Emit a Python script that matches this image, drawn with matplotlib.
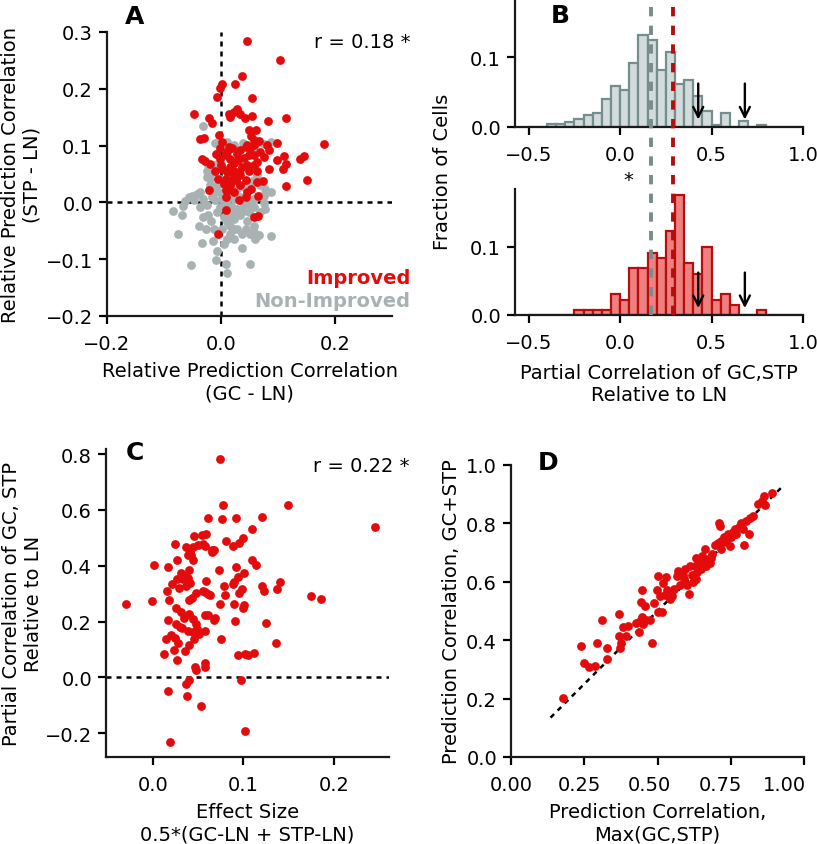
import matplotlib
matplotlib.use("Agg")
import matplotlib.pyplot as plt
from matplotlib.lines import Line2D
from matplotlib.transforms import blended_transform_factory, ScaledTranslation
import numpy as np

# ---------------- DATA ----------------
# Panel A: relative prediction correlation (GC-LN, STP-LN)
improved_x = [0.046, 0.104, 0.036, 0.002, 0.024, -0.001, -0.007, 0.055, -0.047, 0.014,
              0.028, 0.033, 0.042, 0.055, -0.021, -0.015, 0.016, 0.022, 0.082, 0.114,
              0.061, 0.049, -0.003, -0.036, -0.030, 0.052, 0.058, 0.066, 0.099, 0.180,
              0.001, 0.014, 0.043, 0.051, 0.019, 0.034, 0.085, 0.068, 0.111, 0.146,
              0.139, 0.099, 0.114, -0.034, -0.028, -0.019, -0.009, -0.001, 0.008, 0.016,
              0.022, 0.029, 0.040, 0.049, 0.058, 0.064, 0.046, 0.084, 0.108, -0.010,
              0.002, 0.011, 0.022, 0.031, 0.049, 0.064, -0.006, 0.008, 0.019, 0.027,
              0.043, 0.074, 0.151, 0.114, 0.005, 0.016, 0.034, 0.052, -0.021, 0.009,
              0.022, 0.043, 0.009, 0.031, 0.065, 0.008, 0.058, 0.065, -0.006, 0.000,
              0.016, 0.037, 0.022, 0.034, 0.011, 0.028, 0.058, 0.076, 0.046, 0.013,
              0.046, 0.058, 0.080, -0.001, 0.064]
improved_y = [0.285, 0.251, 0.222, 0.208, 0.208, 0.201, 0.186, 0.184, 0.155, 0.155,
              0.165, 0.155, 0.149, 0.152, 0.149, 0.139, 0.151, 0.159, 0.143, 0.148,
              0.128, 0.128, 0.118, 0.112, 0.114, 0.117, 0.109, 0.108, 0.105, 0.102,
              0.106, 0.098, 0.098, 0.095, 0.095, 0.092, 0.092, 0.088, 0.082, 0.082,
              0.076, 0.074, 0.067, 0.077, 0.073, 0.068, 0.086, 0.077, 0.083, 0.077,
              0.070, 0.074, 0.078, 0.083, 0.083, 0.071, 0.065, 0.059, 0.059, 0.056,
              0.059, 0.054, 0.056, 0.054, 0.056, 0.056, 0.042, 0.042, 0.039, 0.039,
              0.039, 0.037, 0.039, 0.028, 0.033, 0.030, 0.030, 0.024, 0.021, 0.021,
              0.018, 0.009, 0.009, 0.004, 0.012, -0.014, -0.026, -0.024, -0.056, 0.065,
              0.062, 0.062, 0.048, 0.048, 0.089, 0.086, 0.101, 0.080, 0.101, 0.021,
              0.018, 0.065, 0.101, 0.095, 0.036]

nonimproved_x = [-0.032, -0.011, 0.038, 0.075, 0.087, 0.064, -0.024, -0.013, -0.025, -0.036,
                 -0.042, -0.051, -0.063, -0.067, -0.085, -0.069, -0.048, -0.031, -0.016, -0.036,
                 -0.025, -0.022, -0.039, -0.075, -0.034, -0.014, -0.027, -0.018, -0.007, -0.008,
                 -0.053, 0.009, 0.011, 0.036, 0.051, 0.036, 0.051, 0.066, 0.087, 0.060,
                 0.016, 0.022, 0.002, 0.011, 0.022, 0.034, 0.046, 0.058, 0.069, 0.078,
                 0.075, 0.087, 0.078, 0.069, 0.058, 0.064, -0.007, -0.004, 0.002, 0.011,
                 0.019, 0.028, 0.040, 0.049, 0.058, 0.037, 0.049, 0.022, 0.014, 0.005,
                 -0.001, -0.010, -0.013, -0.019, 0.014, 0.022, 0.034, 0.028, 0.040, 0.049,
                 0.016, 0.034, 0.058, 0.016, 0.028, 0.043, -0.007, -0.031, -0.013, 0.058,
                 0.022, 0.011, 0.005, -0.056, -0.013, -0.019, 0.069, 0.075, 0.058, 0.022,
                 0.011, -0.022, -0.001, 0.022]
nonimproved_y = [0.135, 0.105, 0.105, 0.102, 0.106, 0.104, 0.056, 0.054, 0.045, 0.019,
                 0.015, 0.011, 0.002, -0.006, -0.015, -0.023, 0.004, 0.006, 0.009, -0.008,
                 -0.005, -0.023, -0.042, -0.056, -0.071, -0.068, -0.046, -0.032, -0.086, -0.102,
                 -0.111, -0.109, -0.124, -0.081, -0.109, -0.056, -0.056, -0.057, -0.059, -0.065,
                 -0.055, -0.046, -0.046, -0.035, -0.029, -0.023, -0.032, -0.041, -0.017, -0.012,
                 -0.001, 0.019, 0.024, 0.030, 0.039, 0.048, 0.030, 0.018, 0.006, -0.002,
                 -0.008, -0.011, -0.005, -0.002, -0.008, -0.017, -0.017, -0.020, -0.023, -0.026,
                 -0.008, 0.004, 0.018, 0.030, 0.009, 0.006, 0.009, 0.024, 0.027, 0.033,
                 0.042, 0.054, 0.006, -0.041, -0.046, -0.046, -0.017, -0.026, -0.046, -0.052,
                 -0.064, -0.064, -0.073, 0.009, 0.065, 0.042, 0.012, 0.012, 0.092, 0.101,
                 0.106, 0.065, 0.042, 0.030]

r_text_A = "r = 0.18 *"

# Panel B: histograms of partial correlation (fraction of cells)
bin_left = [-0.50, -0.45, -0.40, -0.35, -0.30, -0.25, -0.20, -0.15, -0.10, -0.05,
            0.00, 0.05, 0.10, 0.15, 0.20, 0.25, 0.30, 0.35, 0.40, 0.45,
            0.50, 0.55, 0.60, 0.65, 0.70, 0.75, 0.80, 0.85, 0.90, 0.95]
bin_width = 0.05
frac_nonimproved = [0.0, 0.0, 0.003, 0.003, 0.006, 0.0115, 0.017, 0.020, 0.040, 0.058,
                    0.052, 0.091, 0.132, 0.125, 0.082, 0.108, 0.061, 0.067, 0.044, 0.023,
                    0.002, 0.019, 0.0, 0.008, 0.0, 0.002, 0.0, 0.0, 0.0, 0.0]
frac_improved = [0.0, 0.0, 0.0, 0.0, 0.0, 0.0075, 0.0075, 0.0075, 0.0075, 0.030,
                 0.022, 0.068, 0.068, 0.091, 0.083, 0.122, 0.175, 0.076, 0.060, 0.099,
                 0.022, 0.030, 0.015, 0.0, 0.0, 0.0075, 0.0, 0.0, 0.0, 0.0]
median_nonimproved = 0.171
median_improved = 0.291
arrow_x = [0.427, 0.682]
star_x = 0.045

# Panel C: effect size vs partial correlation
effect_size = [0.0745, 0.0775, 0.149, 0.246, 0.0605, 0.076, 0.092, 0.120, 0.109, 0.045,
               0.054, 0.059, 0.100, 0.095, 0.081, 0.089, 0.024, 0.036, 0.044, 0.050,
               0.055, 0.057, 0.065, 0.068, 0.065, 0.041, 0.042, 0.039, 0.044, 0.027,
               0.109, 0.114, 0.001, 0.017, 0.092, 0.073, 0.040, 0.101, 0.031, 0.035,
               0.039, 0.059, 0.033, 0.026, 0.041, 0.094, 0.090, 0.140, 0.078, 0.021,
               0.029, 0.037, 0.016, 0.089, 0.121, 0.098, 0.137, 0.123, 0.055, 0.057,
               0.080, 0.061, 0.048, 0.063, 0.095, 0.175, 0.186, -0.030, -0.001, 0.018,
               0.040, 0.043, 0.074, 0.090, 0.101, 0.100, 0.025, 0.031, 0.040, 0.057,
               0.061, 0.034, 0.044, 0.067, 0.069, 0.017, 0.091, 0.125, 0.047, 0.025,
               0.030, 0.032, 0.039, 0.044, 0.049, 0.058, 0.051, 0.020, 0.014, 0.024,
               0.045, 0.075, 0.136, 0.028, 0.040, 0.023, 0.035, 0.012, 0.094, 0.102,
               0.105, 0.112, 0.027, 0.046, 0.058, 0.047, 0.058, 0.040, 0.097, 0.036,
               0.017, 0.038, 0.053, 0.102, 0.019]
partial_corr = [0.782, 0.619, 0.618, 0.537, 0.570, 0.568, 0.570, 0.574, 0.532, 0.508,
                0.511, 0.514, 0.499, 0.480, 0.487, 0.470, 0.476, 0.467, 0.467, 0.475,
                0.479, 0.470, 0.458, 0.455, 0.449, 0.449, 0.437, 0.437, 0.419, 0.422,
                0.419, 0.401, 0.401, 0.395, 0.397, 0.385, 0.383, 0.375, 0.375, 0.363,
                0.356, 0.347, 0.352, 0.353, 0.339, 0.359, 0.341, 0.341, 0.329, 0.333,
                0.320, 0.329, 0.311, 0.333, 0.326, 0.317, 0.316, 0.309, 0.308, 0.305,
                0.294, 0.300, 0.303, 0.294, 0.303, 0.291, 0.280, 0.263, 0.272, 0.276,
                0.276, 0.284, 0.263, 0.263, 0.261, 0.248, 0.248, 0.236, 0.228, 0.222,
                0.222, 0.212, 0.210, 0.205, 0.212, 0.204, 0.203, 0.196, 0.193, 0.190,
                0.180, 0.177, 0.166, 0.162, 0.174, 0.167, 0.156, 0.153, 0.138, 0.142,
                0.138, 0.136, 0.124, 0.123, 0.117, 0.097, 0.093, 0.085, 0.081, 0.085,
                0.079, 0.088, 0.064, 0.037, 0.036, 0.025, 0.053, -0.010, -0.008, -0.024,
                -0.049, -0.067, -0.103, -0.193, -0.233]
r_text_C = "r = 0.22 *"

# Panel D: prediction correlation max(GC,STP) vs GC+STP
max_gc_stp = [0.177, 0.239, 0.250, 0.266, 0.288, 0.294, 0.310, 0.327, 0.328, 0.367,
              0.367, 0.372, 0.375, 0.383, 0.392, 0.400, 0.428, 0.438, 0.440, 0.448,
              0.451, 0.460, 0.474, 0.481, 0.445, 0.457, 0.447, 0.489, 0.502, 0.498,
              0.508, 0.517, 0.502, 0.520, 0.528, 0.531, 0.526, 0.542, 0.548, 0.558,
              0.565, 0.570, 0.578, 0.588, 0.593, 0.599, 0.606, 0.610, 0.617, 0.622,
              0.627, 0.633, 0.635, 0.642, 0.647, 0.656, 0.662, 0.667, 0.673, 0.678,
              0.686, 0.695, 0.708, 0.711, 0.713, 0.718, 0.718, 0.726, 0.733, 0.741,
              0.750, 0.756, 0.764, 0.769, 0.778, 0.784, 0.795, 0.801, 0.813, 0.815,
              0.826, 0.843, 0.855, 0.863, 0.867, 0.890, 0.590, 0.633, 0.653, 0.683,
              0.747, 0.791]
gc_stp = [0.202, 0.379, 0.322, 0.308, 0.312, 0.391, 0.469, 0.375, 0.334, 0.489,
          0.413, 0.372, 0.391, 0.445, 0.416, 0.448, 0.459, 0.427, 0.467, 0.480,
          0.457, 0.470, 0.469, 0.391, 0.532, 0.518, 0.571, 0.526, 0.621, 0.573,
          0.552, 0.498, 0.495, 0.595, 0.617, 0.573, 0.555, 0.541, 0.552, 0.575,
          0.621, 0.638, 0.589, 0.625, 0.644, 0.589, 0.558, 0.655, 0.623, 0.598,
          0.655, 0.683, 0.632, 0.664, 0.644, 0.672, 0.714, 0.655, 0.678, 0.666,
          0.695, 0.726, 0.732, 0.801, 0.792, 0.712, 0.740, 0.752, 0.738, 0.763,
          0.752, 0.769, 0.780, 0.763, 0.786, 0.803, 0.727, 0.809, 0.762, 0.820,
          0.826, 0.866, 0.877, 0.894, 0.864, 0.903, 0.608, 0.609, 0.689, 0.683,
          0.723, 0.780]
unity_line = [0.135, 0.93]

# ---------------- STYLE ----------------
RED = "#e30b0b"
GREY = "#a8b2b2"
HIST_GREY_FILL = "#d3dcdc"
HIST_GREY_EDGE = "#778c8c"
HIST_RED_FILL = "#ef8080"
HIST_RED_EDGE = "#b80d0d"
MED_GREY = "#7a8b8b"
MED_RED = "#b50d0d"
FS = 14
MS = 40

plt.rcParams.update({
    "font.family": "DejaVu Sans",
    "font.size": FS,
    "axes.linewidth": 1.6,
    "xtick.major.width": 1.6,
    "ytick.major.width": 1.6,
    "xtick.major.size": 6,
    "ytick.major.size": 6,
    "xtick.major.pad": 7,
    "ytick.major.pad": 4,
    "xtick.labelsize": FS,
    "ytick.labelsize": FS,
    "axes.labelsize": FS,
    "axes.edgecolor": "#1a1a1a",
})

W, H = 817, 845
fig = plt.figure(figsize=(W / 100, H / 100), dpi=100)


def ax_px(left, right, top, bottom):
    return fig.add_axes([left / W, 1 - bottom / H, (right - left) / W, (bottom - top) / H])


def despine(ax):
    ax.spines["top"].set_visible(False)
    ax.spines["right"].set_visible(False)


# ---------- Panel A ----------
axA = ax_px(107, 392, 33, 317)
despine(axA)
axA.scatter(nonimproved_x, nonimproved_y, s=MS, color=GREY, linewidths=0, zorder=2)
axA.scatter(improved_x, improved_y, s=MS, color=RED, linewidths=0, zorder=3)
axA.axhline(0, color="k", ls=(0, (2, 2)), lw=1.8, zorder=1)
axA.axvline(0, color="k", ls=(0, (2, 2)), lw=1.8, zorder=1)
axA.set_xlim(-0.2, 0.3)
axA.set_ylim(-0.2, 0.3)
axA.set_xticks([-0.2, 0.0, 0.2])
axA.set_yticks([-0.2, -0.1, 0.0, 0.1, 0.2, 0.3])
axA.set_xlabel("Relative Prediction Correlation\n(GC - LN)", labelpad=6)
axA.set_ylabel("Relative Prediction Correlation\n(STP - LN)", labelpad=3)
axA.text(1.065, 0.968, r_text_A, transform=axA.transAxes, ha="right", va="center", fontsize=FS)
axA.text(1.065, 0.137, "Improved", transform=axA.transAxes, ha="right", va="center",
         fontsize=FS, fontweight="bold", color=RED)
axA.text(1.065, 0.056, "Non-Improved", transform=axA.transAxes, ha="right", va="center",
         fontsize=FS, fontweight="bold", color=GREY)
fig.text(135 / W, 1 - 17 / H, "A", fontsize=18, fontweight="bold", ha="center", va="center")

# ---------- Panel B ----------
axB1 = ax_px(515, 803, 0, 127.5)
axB2 = ax_px(515, 803, 190, 316)
for ax, fr, fc, ec in [(axB1, frac_nonimproved, HIST_GREY_FILL, HIST_GREY_EDGE),
                       (axB2, frac_improved, HIST_RED_FILL, HIST_RED_EDGE)]:
    despine(ax)
    ax.bar(bin_left, fr, width=bin_width, align="edge", color=fc, edgecolor=ec,
           linewidth=1.6, zorder=2)
    ax.set_xlim(-0.575, 1.0)
    ax.set_ylim(0, 0.184)
    ax.set_xticks([-0.5, 0.0, 0.5, 1.0])
    ax.set_yticks([0.0, 0.1])
    for xa in arrow_x:
        ax.annotate("", xy=(xa, 0.006), xytext=(xa, 0.066),
                    arrowprops=dict(arrowstyle="->", color="k", lw=1.7, mutation_scale=18),
                    zorder=5)
axB2.set_xlabel("Partial Correlation of GC,STP\nRelative to LN", labelpad=8)
fig.text(443 / W, 1 - 172 / H, "Fraction of Cells", rotation=90, ha="center", va="center",
         fontsize=FS)

# median lines spanning both histogram axes
trans = blended_transform_factory(axB1.transData, fig.transFigure)
y_top = 1.0
y_bot = 1 - 316 / H
for xm, col in [(median_nonimproved, MED_GREY), (median_improved, MED_RED)]:
    ln = Line2D([xm, xm], [y_bot, y_top], transform=trans, color=col, lw=2.8,
                ls=(0, (2.4, 2.4)), zorder=4)
    fig.add_artist(ln)
fig.text(star_x, 1 - 181 / H, "*", transform=trans, ha="center", va="center", fontsize=FS)
fig.text(560 / W, 1 - 16 / H, "B", fontsize=18, fontweight="bold", ha="center", va="center")

# ---------- Panel C ----------
axC = ax_px(106, 389, 450, 758)
despine(axC)
axC.scatter(effect_size, partial_corr, s=MS, color=RED, linewidths=0, zorder=3)
axC.axhline(0, color="k", ls=(0, (2, 2)), lw=1.8, zorder=1)
axC.set_xlim(-0.052, 0.261)
axC.set_ylim(-0.285, 0.818)
axC.set_xticks([0.0, 0.1, 0.2])
axC.set_yticks([-0.2, 0.0, 0.2, 0.4, 0.6, 0.8])
axC.set_xlabel("Effect Size\n0.5*(GC-LN + STP-LN)", labelpad=6)
axC.set_ylabel("Partial Correlation of GC, STP\nRelative to LN", labelpad=1)
axC.text(1.074, 0.945, r_text_C, transform=axC.transAxes, ha="right", va="center", fontsize=FS)
fig.text(135 / W, 1 - 453 / H, "C", fontsize=18, fontweight="bold", ha="center", va="center")

# ---------- Panel D ----------
axD = ax_px(511, 804, 466, 758)
despine(axD)
axD.plot(unity_line, unity_line, color="k", ls=(0, (2, 2)), lw=1.8, zorder=2)
axD.scatter(max_gc_stp, gc_stp, s=MS, color=RED, linewidths=0, zorder=3)
axD.set_xlim(0, 1)
axD.set_ylim(0, 1)
axD.set_xticks([0.0, 0.25, 0.5, 0.75, 1.0])
axD.set_xticklabels(["0.00", "0.25", "0.50", "0.75", "1.00"])
axD.set_yticks([0.0, 0.2, 0.4, 0.6, 0.8, 1.0])
# shift tick labels slightly left like the reference so the last one fits
shifts_px = [0, -5, -8, -10, 0]
for lab, dx in zip(axD.get_xticklabels(), shifts_px):
    lab.set_transform(lab.get_transform() + ScaledTranslation(dx / 100, 0, fig.dpi_scale_trans))
axD.get_xticklabels()[-1].set_ha("right")
axD.get_xticklabels()[-1].set_transform(axD.get_xticklabels()[-1].get_transform()
                                        + ScaledTranslation(2 / 100, 0, fig.dpi_scale_trans))
axD.set_xlabel("Prediction Correlation,\nMax(GC,STP)", labelpad=6)
axD.set_ylabel("Prediction Correlation, GC+STP")
fig.text(548 / W, 1 - 463 / H, "D", fontsize=18, fontweight="bold", ha="center", va="center")

fig.savefig("out.png", dpi=100)
